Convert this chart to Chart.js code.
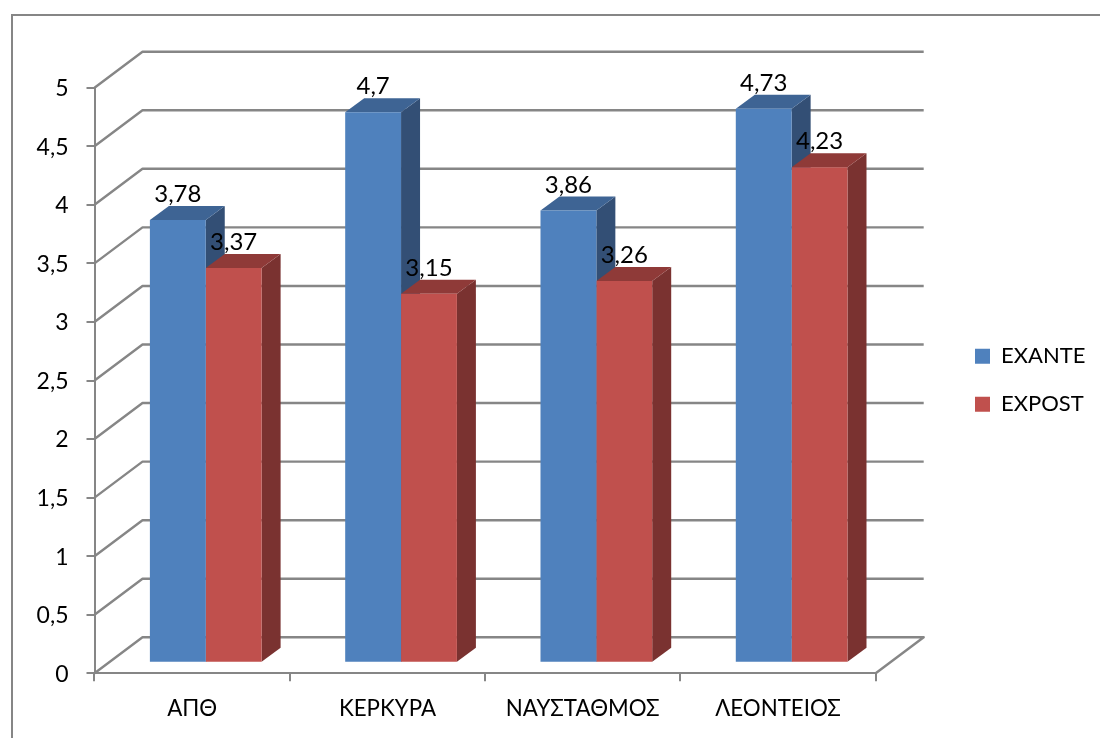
<!DOCTYPE html>
<html>
<head>
<meta charset="utf-8">
<script src="https://cdn.jsdelivr.net/npm/chart.js@4/dist/chart.umd.min.js"></script>
<style>
  html, body { margin: 0; padding: 0; background: #fff; overflow: hidden; }
  canvas { display: block; }
</style>
</head>
<body>
<canvas id="chart" width="1100" height="738"></canvas>
<script>
const categories = ["ΑΠΘ", "ΚΕΡΚΥΡΑ", "ΝΑΥΣΤΑΘΜΟΣ", "ΛΕΟΝΤΕΙΟΣ"];
const exante = [3.78, 4.7, 3.86, 4.73];
const expost = [3.37, 3.15, 3.26, 4.23];

const fontName = "Lato, 'Open Sans', sans-serif";
const lineColor = "#868686";
const comma = v => String(v).replace(".", ",");

// offsets of the fake 3D look
const wall = { dx: 48, dy: -36 };
const floor = { dx: 13.6, dy: -10.6 };
const depth = { dx: 19, dy: -14 };
const faces = [
  { top: "#3e6494", side: "#334f75" },
  { top: "#8f3a38", side: "#7a3230" }
];

const threeD = {
  id: "threeD",
  beforeDraw(chart) {
    const ctx = chart.ctx;
    ctx.save();
    ctx.strokeStyle = lineColor;
    ctx.lineWidth = 2;
    ctx.strokeRect(12, 15, 1300, 1000);
    ctx.restore();
  },
  afterLayout(chart) {
    // legend sits away from the plot, not next to it
    const legend = chart.legend;
    legend.left = 949;
    legend.right = 1100;
    legend.top -= 32.5;
    legend.bottom -= 32.5;
  },
  beforeDatasetsDraw(chart) {
    const ctx = chart.ctx;
    const area = chart.chartArea;
    const y = chart.scales.y;
    ctx.save();
    ctx.strokeStyle = lineColor;
    ctx.lineWidth = 2.4;
    ctx.lineJoin = "round";
    y.ticks.forEach(t => {
      const py = y.getPixelForValue(t.value);
      ctx.beginPath();
      ctx.moveTo(area.left, py);
      ctx.lineTo(area.left + wall.dx, py + wall.dy);
      ctx.lineTo(area.right + wall.dx, py + wall.dy);
      if (t.value === 0) ctx.lineTo(area.right, py);
      ctx.stroke();
    });
    // side and top faces go first, blue then red, so the red ones cover the blue side
    ctx.translate(floor.dx, floor.dy);
    faces.forEach((face, i) => {
      chart.getDatasetMeta(i).data.forEach(bar => {
        const x0 = bar.x - bar.width / 2;
        const x1 = bar.x + bar.width / 2;
        ctx.fillStyle = face.side;
        ctx.beginPath();
        ctx.moveTo(x1, bar.y);
        ctx.lineTo(x1 + depth.dx, bar.y + depth.dy);
        ctx.lineTo(x1 + depth.dx, bar.base + depth.dy);
        ctx.lineTo(x1, bar.base);
        ctx.closePath();
        ctx.fill();
        ctx.fillStyle = face.top;
        ctx.beginPath();
        ctx.moveTo(x0, bar.y);
        ctx.lineTo(x0 + depth.dx, bar.y + depth.dy);
        ctx.lineTo(x1 + depth.dx, bar.y + depth.dy);
        ctx.lineTo(x1, bar.y);
        ctx.closePath();
        ctx.fill();
      });
    });
    ctx.restore();
  },
  beforeDatasetDraw(chart) {
    chart.ctx.save();
    chart.ctx.translate(floor.dx, floor.dy);
  },
  afterDatasetDraw(chart) {
    chart.ctx.restore();
  },
  afterDatasetsDraw(chart) {
    const ctx = chart.ctx;
    ctx.save();
    ctx.font = "24px " + fontName;
    ctx.fillStyle = "#000";
    ctx.textAlign = "center";
    ctx.textBaseline = "alphabetic";
    chart.data.datasets.forEach((ds, i) => {
      chart.getDatasetMeta(i).data.forEach((bar, j) => {
        ctx.fillText(comma(ds.data[j]), bar.x + floor.dx, bar.y + floor.dy - 18);
      });
    });
    ctx.restore();
  }
};

new Chart(document.getElementById("chart"), {
  type: "bar",
  plugins: [threeD],
  data: {
    labels: categories,
    datasets: [
      { label: "EXANTE", data: exante, backgroundColor: "#4f81bd" },
      { label: "EXPOST", data: expost, backgroundColor: "#c0504d" }
    ]
  },
  options: {
    responsive: false,
    animation: false,
    layout: { padding: { top: 87.7, right: 84.3, left: 0, bottom: 0 } },
    datasets: { bar: { categoryPercentage: 0.572, barPercentage: 1, clip: false } },
    plugins: {
      tooltip: { enabled: false },
      legend: {
        position: "right",
        maxWidth: 140,
        labels: {
          boxWidth: 15,
          boxHeight: 15,
          padding: 26,
          color: "#000",
          font: { family: fontName, size: 22 }
        }
      }
    },
    scales: {
      x: {
        afterFit: s => { s.height = 64.7; },
        border: { color: lineColor, width: 2 },
        grid: { drawOnChartArea: false, drawTicks: true, tickLength: 8, color: lineColor, lineWidth: 2 },
        ticks: { color: "#000", padding: 14, maxRotation: 0, font: { family: fontName, size: 22.3 } }
      },
      y: {
        min: 0,
        max: 5,
        afterFit: s => { s.width = 94.5; },
        border: { color: lineColor, width: 2 },
        grid: { drawOnChartArea: false, drawTicks: true, tickLength: 8, color: lineColor, lineWidth: 2 },
        ticks: {
          stepSize: 0.5,
          color: "#000",
          padding: 18,
          labelOffset: 1,
          font: { family: fontName, size: 23 },
          callback: v => comma(v)
        }
      }
    }
  }
});
</script>
</body>
</html>
